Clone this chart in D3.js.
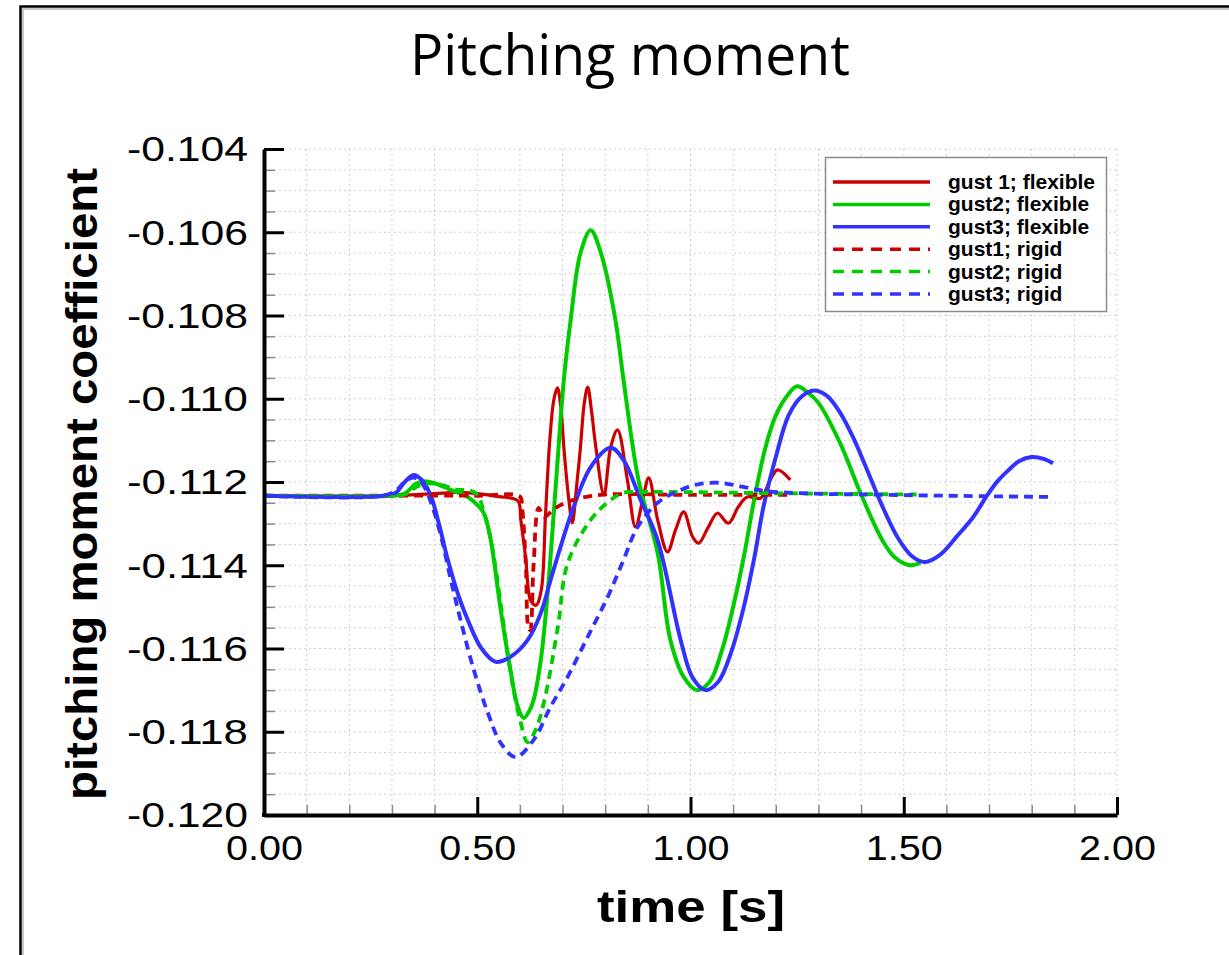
<!DOCTYPE html>
<html><head><meta charset="utf-8">
<script src="https://cdn.jsdelivr.net/npm/d3@7"></script>
<style>body{margin:0;background:#fff}svg{display:block}</style>
</head><body>
<svg id="c" width="1229" height="955"></svg>
<script>
// ---- data: [time (s), pitching moment coefficient] ----
const gust1Flexible = [
 [0,-0.11233],[0.30,-0.11233],[0.40,-0.11228],[0.45,-0.11225],[0.50,-0.11228],[0.55,-0.11235],[0.595,-0.11245],
 [0.602,-0.1129],[0.614,-0.11387],[0.625,-0.11484],[0.638,-0.11496],[0.650,-0.1146],[0.660,-0.1128],[0.670,-0.1110],
 [0.680,-0.1100],[0.688,-0.10974],[0.696,-0.1102],[0.703,-0.11116],[0.714,-0.11236],[0.723,-0.11298],[0.732,-0.1122],
 [0.742,-0.11116],[0.751,-0.1101],[0.759,-0.10972],[0.768,-0.1103],[0.778,-0.11116],[0.797,-0.11231],[0.813,-0.11116],
 [0.829,-0.11075],[0.852,-0.11195],[0.871,-0.11308],[0.888,-0.11243],[0.902,-0.1119],[0.923,-0.11291],[0.946,-0.11368],
 [0.965,-0.11315],[0.984,-0.11272],[1.005,-0.11332],[1.019,-0.11347],[1.042,-0.11308],[1.063,-0.11275],[1.089,-0.11299],
 [1.112,-0.1126],[1.133,-0.11236],[1.164,-0.11239],[1.187,-0.11195],[1.204,-0.11171],[1.234,-0.11195]
];
const gust2Flexible = [
 [0,-0.11233],[0.30,-0.11233],[0.33,-0.11228],[0.355,-0.11205],[0.375,-0.11198],[0.40,-0.11203],[0.438,-0.11219],
 [0.478,-0.11236],[0.50,-0.11255],[0.515,-0.11274],[0.53,-0.1133],[0.539,-0.11387],[0.555,-0.11507],[0.578,-0.11652],
 [0.595,-0.1174],[0.609,-0.11767],[0.622,-0.1175],[0.632,-0.11724],[0.649,-0.11628],[0.665,-0.11467],[0.684,-0.1121],
 [0.703,-0.10955],[0.719,-0.10811],[0.742,-0.1065],[0.766,-0.10595],[0.790,-0.1065],[0.824,-0.10811],[0.843,-0.10955],
 [0.878,-0.11195],[0.923,-0.11371],[0.953,-0.1158],[0.985,-0.1167],[1.015,-0.1170],[1.045,-0.1168],[1.075,-0.1160],
 [1.10,-0.1150],[1.125,-0.1138],[1.148,-0.1125],[1.175,-0.1112],[1.20,-0.1104],[1.225,-0.10995],[1.25,-0.1097],
 [1.275,-0.10985],[1.30,-0.1101],[1.35,-0.11105],[1.40,-0.1123],[1.45,-0.1134],[1.48,-0.11382],[1.515,-0.1140],
 [1.539,-0.11394]
];
const gust3Flexible = [
 [0,-0.11233],[0.28,-0.11233],[0.31,-0.11225],[0.33,-0.11200],[0.351,-0.11183],[0.37,-0.11195],[0.391,-0.11233],
 [0.41,-0.11300],[0.431,-0.11387],[0.455,-0.1147],[0.478,-0.11532],[0.51,-0.11600],[0.543,-0.11632],[0.578,-0.1162],
 [0.618,-0.1158],[0.649,-0.11515],[0.672,-0.11435],[0.700,-0.1134],[0.726,-0.1126],[0.766,-0.11164],[0.813,-0.11118],
 [0.843,-0.11147],[0.883,-0.11243],[0.923,-0.1134],[0.977,-0.1158],[1.005,-0.1167],[1.035,-0.1170],[1.065,-0.1168],
 [1.095,-0.1161],[1.125,-0.1150],[1.15,-0.1138],[1.171,-0.1126],[1.20,-0.1114],[1.23,-0.1104],[1.26,-0.10995],
 [1.29,-0.1098],[1.32,-0.10993],[1.35,-0.11032],[1.38,-0.1109],[1.41,-0.11161],[1.445,-0.11247],[1.485,-0.11332],
 [1.52,-0.11379],[1.55,-0.11392],[1.585,-0.11375],[1.625,-0.1133],[1.663,-0.11284],[1.695,-0.11233],[1.72,-0.11198],
 [1.745,-0.11172],[1.77,-0.1115],[1.80,-0.1114],[1.83,-0.11145],[1.85,-0.11155]
];
const gust1Rigid = [
 [0,-0.11233],[0.30,-0.11233],[0.50,-0.11233],[0.600,-0.11235],[0.605,-0.1126],[0.614,-0.1140],[0.620,-0.1155],
 [0.624,-0.11556],[0.632,-0.1140],[0.644,-0.11262],[0.656,-0.11284],[0.684,-0.11262],[0.726,-0.11243],[0.789,-0.11231],
 [1.0,-0.11231],[1.23,-0.11231]
];
const gust2Rigid = [
 [0,-0.11233],[0.30,-0.11233],[0.33,-0.1123],[0.36,-0.1121],[0.39,-0.11203],[0.42,-0.11208],[0.45,-0.11218],
 [0.48,-0.1122],[0.50,-0.1123],[0.515,-0.1127],[0.53,-0.1133],[0.545,-0.1142],[0.56,-0.1153],[0.58,-0.1167],
 [0.60,-0.1177],[0.618,-0.11825],[0.635,-0.1180],[0.656,-0.11731],[0.689,-0.11548],[0.712,-0.11395],[0.766,-0.11291],
 [0.813,-0.11243],[0.843,-0.11226],[0.90,-0.11224],[1.2,-0.11227],[1.53,-0.1123]
];
const gust3Rigid = [
 [0,-0.11233],[0.28,-0.11233],[0.31,-0.1122],[0.335,-0.11195],[0.355,-0.1119],[0.375,-0.1121],[0.395,-0.1126],
 [0.415,-0.1133],[0.438,-0.11435],[0.461,-0.11532],[0.492,-0.11652],[0.525,-0.11755],[0.555,-0.11827],[0.59,-0.11861],
 [0.632,-0.1182],[0.672,-0.1174],[0.712,-0.11668],[0.759,-0.11572],[0.806,-0.11476],[0.843,-0.11387],[0.876,-0.11308],
 [0.923,-0.1125],[0.977,-0.11219],[1.02,-0.11205],[1.07,-0.11202],[1.124,-0.11212],[1.18,-0.11222],[1.288,-0.11228],
 [1.4,-0.1123],[1.6,-0.11233],[1.85,-0.11236]
];
const seriesData = [gust1Flexible, gust2Flexible, gust3Flexible, gust1Rigid, gust2Rigid, gust3Rigid];
const seriesNames = ["gust 1; flexible","gust2; flexible","gust3; flexible","gust1; rigid","gust2; rigid","gust3; rigid"];
const seriesColors = ["#cc0000","#00cc00","#3232ff","#cc0000","#00cc00","#3232ff"];
const seriesDashed = [false,false,false,true,true,true];
const xTickValues = [0,0.5,1,1.5,2];
const xTickLabels = ["0.00","0.50","1.00","1.50","2.00"];
const yTickValues = [-0.120,-0.118,-0.116,-0.114,-0.112,-0.110,-0.108,-0.106,-0.104];
const yTickLabels = ["-0.120","-0.118","-0.116","-0.114","-0.112","-0.110","-0.108","-0.106","-0.104"];
const titleText = "Pitching moment";
const xTitle = "time [s]";
const yTitle = "pitching moment coefficient";

// ---- drawing ----
const svg = d3.select('#c');
const x = d3.scaleLinear().domain([0,2]).range([264,1117]);
const y = d3.scaleLinear().domain([-0.120,-0.104]).range([815,149]);
const FONT = "'Liberation Sans', Arial, Helvetica, sans-serif";

// frame
svg.append('path').attr('d','M23,955V9H1229').attr('fill','none').attr('stroke','#c8c8c8').attr('stroke-width',2);
svg.append('path').attr('d','M20.5,955V6.5H1229').attr('fill','none').attr('stroke','#000').attr('stroke-width',2.5);

// title
svg.append('text').attr('x',630).attr('y',75).attr('text-anchor','middle')
  .attr('font-family',"'Open Sans','Noto Sans',sans-serif").attr('font-size',56)
  .attr('textLength',440).attr('lengthAdjust','spacingAndGlyphs').attr('fill','#000').text(titleText);

// grid
const xMinor = d3.range(1,21).map(i=>i/10);
const yMinor = d3.range(1,33).map(i=>-0.120+i*0.0005);
const grid = svg.append('g').attr('stroke','#cfcfcf').attr('stroke-width',1).attr('stroke-dasharray','2,3');
grid.selectAll('line.v').data(xMinor).join('line').attr('class','v')
  .attr('x1',d=>x(d)).attr('x2',d=>x(d)).attr('y1',y(-0.104)).attr('y2',y(-0.120));
grid.selectAll('line.h').data(yMinor).join('line').attr('class','h')
  .attr('x1',x(0)).attr('x2',x(2)).attr('y1',d=>y(d)).attr('y2',d=>y(d));

// minor ticks
const yMinorTicks = yMinor.filter(v=>Math.abs(Math.round(v/0.002)*0.002 - v) > 1e-7);
const xMinorTicks = xMinor.filter(v=>Math.abs(Math.round(v/0.5)*0.5 - v) > 1e-7);
svg.append('g').attr('transform',`translate(${x(0)},0)`)
  .call(d3.axisLeft(y).tickValues(yMinorTicks).tickSize(-11).tickSizeOuter(0).tickFormat(''))
  .call(g=>{g.select('.domain').remove(); g.selectAll('line').attr('stroke','#8a8a8a').attr('stroke-width',1.5);});
svg.append('g').attr('transform',`translate(0,${y(-0.120)})`)
  .call(d3.axisBottom(x).tickValues(xMinorTicks).tickSize(-10).tickSizeOuter(0).tickFormat(''))
  .call(g=>{g.select('.domain').remove(); g.selectAll('line').attr('stroke','#8a8a8a').attr('stroke-width',1.5);});

// curves
const line = d3.line().x(d=>x(d[0])).y(d=>y(d[1])).curve(d3.curveCatmullRom.alpha(0.5));
const plot = svg.append('g');
seriesData.forEach((data,i)=>{
  plot.append('path').datum(data).attr('d',line).attr('fill','none')
    .attr('stroke',seriesColors[i])
    .attr('stroke-width', seriesDashed[i] ? 3.8 : (i===0 ? 3.2 : 4))
    .attr('stroke-dasharray', seriesDashed[i] ? '9,6' : null)
    .attr('stroke-linejoin','round');
});

// major axes
const yAxis = svg.append('g').attr('transform',`translate(${x(0)},0)`)
  .call(d3.axisLeft(y).tickValues(yTickValues).tickSize(-20).tickSizeOuter(0).tickPadding(16)
        .tickFormat((d,i)=>yTickLabels[i]));
yAxis.select('.domain').attr('stroke-width',4).attr('stroke','#000');
yAxis.selectAll('.tick line').attr('stroke','#000').attr('stroke-width',3);
yAxis.selectAll('.tick text').attr('font-family',FONT).attr('font-size',35).attr('fill','#000')
  .attr('dy','0.34em').attr('textLength',121).attr('lengthAdjust','spacingAndGlyphs');

const xAxis = svg.append('g').attr('transform',`translate(0,${y(-0.120)})`)
  .call(d3.axisBottom(x).tickValues(xTickValues).tickSize(-18).tickSizeOuter(0).tickPadding(20)
        .tickFormat((d,i)=>xTickLabels[i]));
xAxis.select('.domain').attr('stroke-width',4).attr('stroke','#000');
xAxis.selectAll('.tick line').attr('stroke','#000').attr('stroke-width',3);
xAxis.selectAll('.tick text').attr('font-family',FONT).attr('font-size',35).attr('fill','#000')
  .attr('textLength',77).attr('lengthAdjust','spacingAndGlyphs');
svg.append('rect').attr('x',x(0)-2).attr('y',y(-0.120)-2).attr('width',4).attr('height',4).attr('fill','#000');

// axis titles
svg.append('text').attr('x',691).attr('y',922).attr('text-anchor','middle')
  .attr('font-family',FONT).attr('font-weight','bold').attr('font-size',44)
  .attr('textLength',188).attr('lengthAdjust','spacingAndGlyphs').text(xTitle);
svg.append('text').attr('transform','translate(97,484) rotate(-90)').attr('text-anchor','middle')
  .attr('font-family',FONT).attr('font-weight','bold').attr('font-size',44)
  .attr('textLength',632).attr('lengthAdjust','spacingAndGlyphs').text(yTitle);

// legend
const lg = svg.append('g');
lg.append('rect').attr('x',825.5).attr('y',157.5).attr('width',281).attr('height',154)
  .attr('fill','#fff').attr('stroke','#8c8c8c').attr('stroke-width',1.5);
const rowY = i => 182 + i*22.4;
seriesNames.forEach((name,i)=>{
  lg.append('line').attr('x1',833).attr('x2',930).attr('y1',rowY(i)).attr('y2',rowY(i))
    .attr('stroke',seriesColors[i]).attr('stroke-width',3.5)
    .attr('stroke-dasharray', seriesDashed[i] ? '11,8' : null);
  lg.append('text').attr('x',948).attr('y',rowY(i)+7).attr('font-family',FONT)
    .attr('font-weight','bold').attr('font-size',21).attr('fill','#000').text(name);
});
</script>
</body></html>
